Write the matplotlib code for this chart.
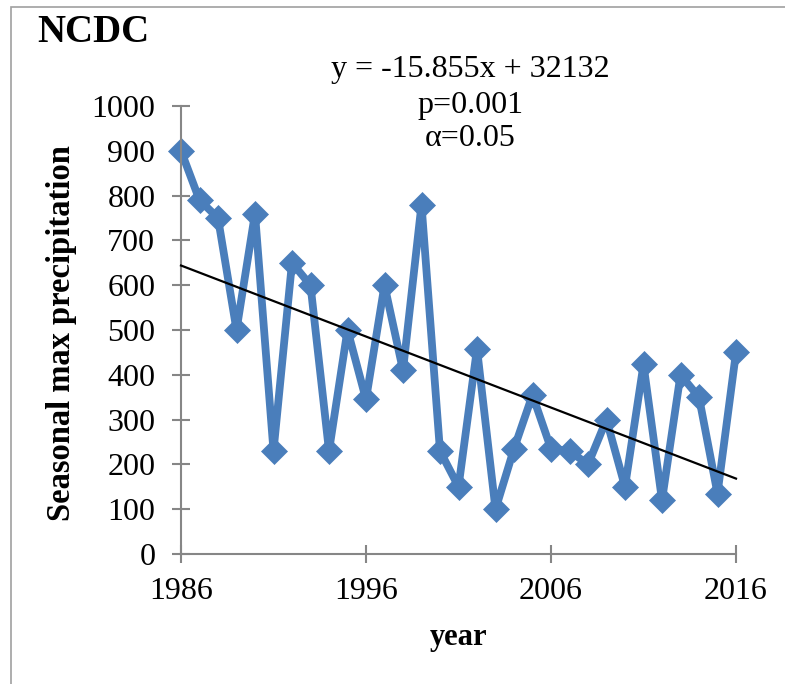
import numpy as np
import matplotlib

matplotlib.use("Agg")
import matplotlib.pyplot as plt
from matplotlib.patches import Rectangle

plt.rcParams["font.family"] = ["Liberation Serif", "DejaVu Serif"]

years = list(range(1986, 2017))
precip = [900, 790, 750, 500, 760, 230, 650, 600, 230, 500,
          345, 600, 410, 780, 230, 150, 458, 100, 235, 355,
          235, 230, 200, 300, 150, 423, 120, 400, 350, 135, 450]
slope = -15.855
intercept = 32132
x_ticks = [1986, 1996, 2006, 2016]
y_ticks = list(range(0, 1001, 100))

BLUE = "#4a7ebb"
GRAY = "#868686"

fig = plt.figure(figsize=(7.85, 6.84), dpi=100)

# outer chart frame (only left/top visible in the crop)
fig.patches.append(Rectangle((11 / 785, -0.1), 1.2, 1.1 - 7 / 684,
                             transform=fig.transFigure, fill=False,
                             edgecolor="#a0a0a0", linewidth=1.2))

ax = fig.add_axes([181 / 785, 1 - 554 / 684, (736 - 181) / 785, (554 - 106) / 684])

ax.plot(years, precip, color=BLUE, linewidth=5.6, marker="D",
        markersize=13, markerfacecolor=BLUE, markeredgecolor=BLUE,
        markeredgewidth=0.5, solid_joinstyle="round", zorder=2,
        clip_on=False)

trend_x = np.array([years[0], years[-1]])
ax.plot(trend_x, slope * trend_x + intercept, color="black", linewidth=1.6,
        zorder=3, clip_on=False)

ax.set_xlim(1986, 2016)
ax.set_ylim(0, 1000)
ax.set_xticks(x_ticks)
ax.set_yticks(y_ticks)
ax.tick_params(axis="both", direction="inout", length=13, width=1.5,
               color=GRAY, labelsize=23)
ax.tick_params(axis="y", pad=12)
ax.tick_params(axis="x", pad=10)
for side in ["top", "right"]:
    ax.spines[side].set_visible(False)
for side in ["left", "bottom"]:
    ax.spines[side].set_color(GRAY)
    ax.spines[side].set_linewidth(1.5)

ax.set_xlabel("year", fontsize=22, fontweight="bold", labelpad=12)
fig.text(62 / 785, 1 - 333 / 684, "Seasonal max precipitation", fontsize=23.5,
         fontweight="bold", rotation=90, ha="center", va="center")

fig.text(37 / 785, 1 - 33 / 684, "NCDC", fontsize=28, fontweight="bold",
         ha="left", va="center")
fig.text(470 / 785, 1 - 70 / 684, "y = -15.855x + 32132", fontsize=23,
         ha="center", va="center")
fig.text(470 / 785, 1 - 105 / 684, "p=0.001", fontsize=23, ha="center", va="center")
fig.text(470 / 785, 1 - 139 / 684, "α=0.05", fontsize=23, ha="center", va="center")

fig.savefig("out.png", dpi=100)
plt.close(fig)
